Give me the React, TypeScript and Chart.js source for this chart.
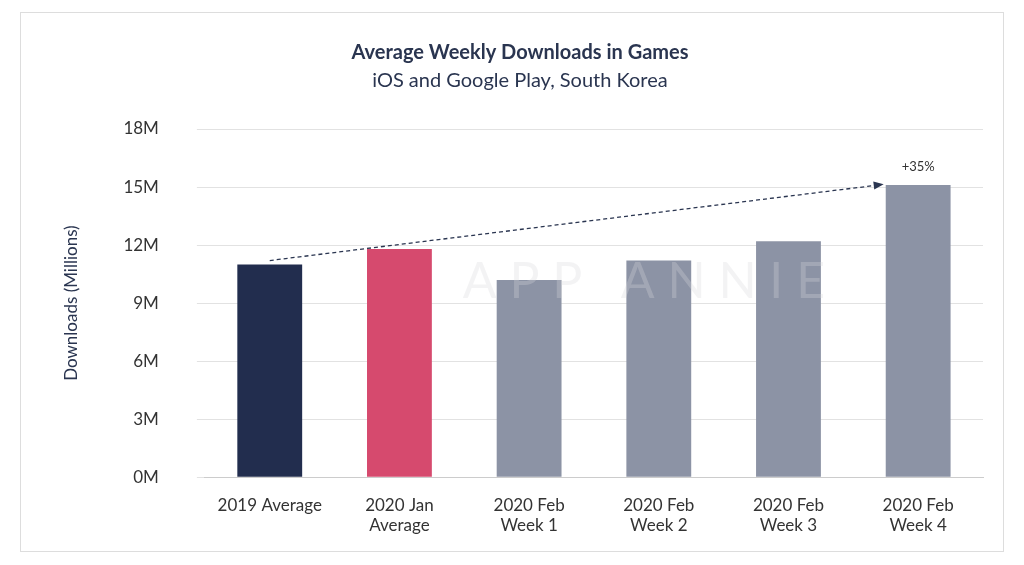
import React, { useEffect, useRef } from 'react'
import Chart from 'chart.js/auto'

const categories = [['2019 Average'], ['2020 Jan', 'Average'], ['2020 Feb', 'Week 1'], ['2020 Feb', 'Week 2'], ['2020 Feb', 'Week 3'], ['2020 Feb', 'Week 4']]
const downloads = [11.0, 11.8, 10.2, 11.2, 12.2, 15.1]
const barColors = ['#222d4e', '#d64a6e', '#8c93a5', '#8c93a5', '#8c93a5', '#8c93a5']
const arrowLabel = '+35%'

const extras = {
  id: 'extras',
  afterDatasetsDraw(chart: any) {
    const { ctx, chartArea } = chart
    const y = chart.scales.y
    const meta = chart.getDatasetMeta(0)
    const first = meta.data[0]
    const last = meta.data[meta.data.length - 1]

    ctx.save()
    ctx.fillStyle = 'rgba(215,215,220,0.3)'
    ctx.font = '50px Lato'
    ctx.textAlign = 'center'
    ctx.textBaseline = 'middle'
    ctx.fillText('A P P   A N N I E', (chartArea.left + chartArea.right) / 2 + 50, y.getPixelForValue(10.1))
    ctx.restore()

    const x1 = first.x
    const y1 = y.getPixelForValue(downloads[0] + 0.2)
    const x2 = last.x - last.width / 2 - 8
    const y2 = y.getPixelForValue(downloads[downloads.length - 1])
    ctx.save()
    ctx.strokeStyle = '#2a3550'
    ctx.lineWidth = 1.3
    ctx.setLineDash([4, 3])
    ctx.beginPath()
    ctx.moveTo(x1, y1)
    ctx.lineTo(x2, y2)
    ctx.stroke()
    ctx.setLineDash([])
    const a = Math.atan2(y2 - y1, x2 - x1)
    ctx.fillStyle = '#2a3550'
    ctx.beginPath()
    ctx.moveTo(x2 + 6 * Math.cos(a), y2 + 6 * Math.sin(a))
    ctx.lineTo(x2 - 4 * Math.cos(a) + 4 * Math.sin(a), y2 - 4 * Math.sin(a) - 4 * Math.cos(a))
    ctx.lineTo(x2 - 4 * Math.cos(a) - 4 * Math.sin(a), y2 - 4 * Math.sin(a) + 4 * Math.cos(a))
    ctx.fill()
    ctx.fillStyle = '#333'
    ctx.font = '13px Lato'
    ctx.textAlign = 'center'
    ctx.fillText(arrowLabel, last.x, y2 - 14)
    ctx.restore()
  },
}

const App = () => {
  const ref = useRef<HTMLCanvasElement>(null)
  useEffect(() => {
    if (!ref.current) return
    const chart = new Chart(ref.current, {
      type: 'bar',
      data: {
        labels: categories,
        datasets: [{ data: downloads, backgroundColor: barColors, barPercentage: 0.5, categoryPercentage: 1 }],
      },
      options: {
        animation: false,
        responsive: true,
        maintainAspectRatio: false,
        layout: { padding: { left: 36, right: 20, top: 14, bottom: 5 } },
        plugins: {
          legend: { display: false },
          tooltip: { enabled: false },
          title: {
            display: true,
            text: 'Average Weekly Downloads in Games',
            color: '#2a3550',
            font: { family: 'Lato', size: 20, weight: 'bold' },
            padding: { top: 14, bottom: 4 },
          },
          subtitle: {
            display: true,
            text: 'iOS and Google Play, South Korea',
            color: '#2a3550',
            font: { family: 'Lato', size: 20 },
            padding: { bottom: 36 },
          },
        },
        scales: {
          x: {
            grid: { display: false },
            border: { color: '#ccc' },
            ticks: { color: '#333', font: { family: 'Lato', size: 17 }, maxRotation: 0, padding: 10 },
          },
          y: {
            min: 0,
            max: 18,
            ticks: { stepSize: 3, color: '#333', font: { family: 'Lato', size: 17 }, callback: (v: any) => v + 'M', padding: 38 },
            grid: { color: '#e2e2e2' },
            border: { display: false },
            title: { display: true, text: 'Downloads (Millions)', color: '#2a3550', font: { family: 'Lato', size: 17 } },
          },
        },
      },
      plugins: [extras],
    } as any)
    return () => chart.destroy()
  }, [])
  return (
    <div style={{ position: 'absolute', left: 0, top: 0, width: 1024, height: 565, background: '#fff', fontFamily: 'Lato' }}>
      <div style={{ position: 'absolute', left: 20, top: 12, width: 982, height: 538, border: '1px solid #ddd' }}>
        <canvas ref={ref} />
      </div>
    </div>
  )
}

export default App
